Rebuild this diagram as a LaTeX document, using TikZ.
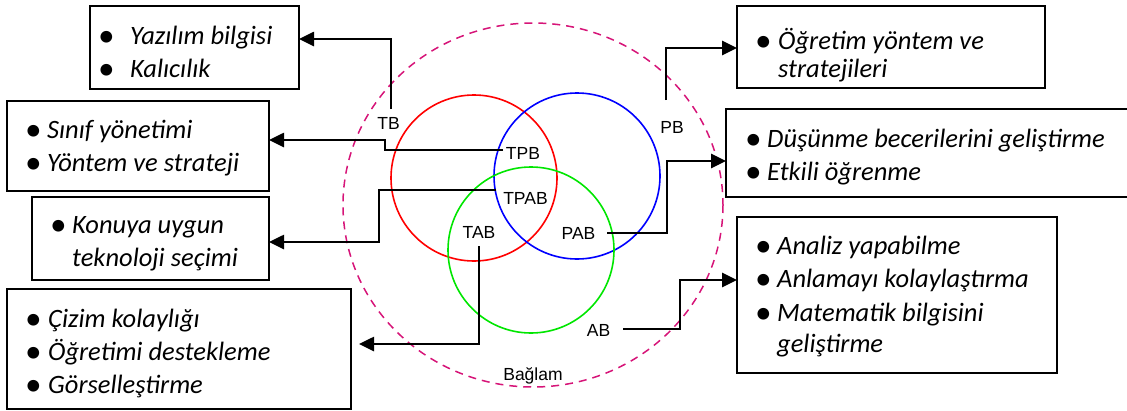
\documentclass[tikz,border=0pt]{standalone}
\usepackage{fontspec}
\setmainfont{Carlito}
\newfontfamily\labfont{Liberation Sans}
\usetikzlibrary{arrows.meta,calc}
\definecolor{ctxpink}{RGB}{214,20,120}
\definecolor{vred}{RGB}{255,0,0}
\definecolor{vblue}{RGB}{0,0,255}
\definecolor{vgreen}{RGB}{0,230,0}
\newcommand\bulmark{\makebox[0pt]{\smash{\raisebox{-2pt}{\fontsize{33}{0}\selectfont\textbullet}}}}
\begin{document}
\begin{tikzpicture}[x=1pt,y=-1pt,
  box/.style={draw,line width=1.9pt,rectangle,anchor=north west,inner sep=0pt,outer sep=0pt},
  arr/.style={line width=2.6pt,-{Triangle[length=15pt,width=14pt]}},
  lab/.style={font=\labfont\fontsize{17.5}{20}\selectfont,inner sep=0pt,anchor=base},
  items/.style={anchor=base west,inner sep=0pt,font=\itshape\fontsize{26.5}{33.5}\selectfont},
  venn/.style={circle,draw,line width=1.6pt,minimum size=166pt,inner sep=0pt}]
\useasboundingbox (0,0) rectangle (1127,410);

% context ellipse
\draw[ctxpink,line width=1.5pt,dash pattern=on 8pt off 6pt] (533,205) ellipse[x radius=190,y radius=182];

% Venn circles
\node[venn,draw=vred]   (T) at (474,178) {};
\node[venn,draw=vblue]  (P) at (577,176) {};
\node[venn,draw=vgreen] (A) at (531,250) {};

% labels
\node[lab] (TB)   at (388.5,129) {TB};
\node[lab] (TPB)  at (523,159) {TPB};
\node[lab] (TPAB) at (525.5,204) {TPAB};
\node[lab] (TAB)  at (479,238) {TAB};
\node[lab] (PAB)  at (578.5,239) {PAB};
\node[lab] (PB)   at (672,133) {PB};
\node[lab] (AB)   at (598.5,336) {AB};
\node[lab] (BAG)  at (533,380) {Bağlam};

% boxes
\node[box,minimum width=209pt,minimum height=83pt]  (b1) at (90,6) {};
\node[box,minimum width=262pt,minimum height=90pt]  (b2) at (7,101) {};
\node[box,minimum width=237pt,minimum height=83pt]  (b3) at (32,197) {};
\node[box,minimum width=344pt,minimum height=120pt] (b4) at (7,289) {};
\node[box,minimum width=308pt,minimum height=82pt]  (b5) at (737,6) {};
\node[box,minimum width=420pt,minimum height=88pt]  (b6) at (726,109) {};
\node[box,minimum width=320pt,minimum height=156pt] (b7) at (737,217) {};

% box texts
\node[items] (t1) at (106,44) {\begin{tabular}[t]{@{}l@{\hspace{24pt}}l@{}}\bulmark & Yazılım bilgisi\\[-0.5pt] \bulmark & Kalıcılık\end{tabular}};
\node[items] (t2) at (33,138) {\begin{tabular}[t]{@{}l@{\hspace{14pt}}l@{}}\bulmark & Sınıf yönetimi\\ \bulmark & Yöntem ve strateji\end{tabular}};
\node[items] (t3) at (58,233) {\begin{tabular}[t]{@{}l@{\hspace{14pt}}l@{}}\bulmark & Konuya uygun\\ & teknoloji seçimi\end{tabular}};
\node[items] (t4) at (33,327) {\begin{tabular}[t]{@{}l@{\hspace{15pt}}l@{}}\bulmark & Çizim kolaylığı\\[-0.5pt] \bulmark & Öğretimi destekleme\\[-0.5pt] \bulmark & Görselleştirme\end{tabular}};
\node[items] (t5) at (763,49) {\begin{tabular}[t]{@{}l@{\hspace{15pt}}l@{}}\bulmark & Öğretim yöntem ve\\[-5.5pt] & stratejileri\end{tabular}};
\node[items] (t6) at (753,147) {\begin{tabular}[t]{@{}l@{\hspace{14pt}}l@{}}\bulmark & Düşünme becerilerini geliştirme\\ \bulmark & Etkili öğrenme\end{tabular}};
\node[items] (t7) at (763,254) {\begin{tabular}[t]{@{}l@{\hspace{14pt}}l@{}}\bulmark & Analiz yapabilme\\ \bulmark & Anlamayı kolaylaştırma\\ \bulmark & Matematik bilgisini\\[-2.5pt] & geliştirme\end{tabular}};

% connector points
\coordinate (tb0) at (391,109);   \coordinate (tb1) at (391,39);
\coordinate (tpb0) at (503,150);  \coordinate (tpb1) at (385,150); \coordinate (tpb2) at (385,140);
\coordinate (tpab0) at (496,190); \coordinate (tpab1) at (379,190); \coordinate (tpab2) at (379,242);
\coordinate (tab0) at (479,246);  \coordinate (tab1) at (479,344);
\coordinate (pb0) at (666,100);   \coordinate (pb1) at (666,48);
\coordinate (pab0) at (607,233);  \coordinate (pab1) at (667,233); \coordinate (pab2) at (667,161);
\coordinate (ab0) at (623,329);   \coordinate (ab1) at (680,329);  \coordinate (ab2) at (680,280);

% connectors
\draw[arr] (tb0) -- (tb1) -- (tb1 -| b1.east);
\draw[arr] (tpb0) -- (tpb1) -- (tpb2) -- (tpb2 -| b2.east);
\draw[arr] (tpab0) -- (tpab1) -- (tpab2) -- (tpab2 -| b3.east);
\draw[arr,shorten >=8pt] (tab0) -- (tab1) -- (tab1 -| b4.east);
\draw[arr] (pb0) -- (pb1) -- (pb1 -| b5.west);
\draw[arr] (pab0) -- (pab1) -- (pab2) -- (pab2 -| b6.west);
\draw[arr] (ab0) -- (ab1) -- (ab2) -- (ab2 -| b7.west);
\end{tikzpicture}
\end{document}
